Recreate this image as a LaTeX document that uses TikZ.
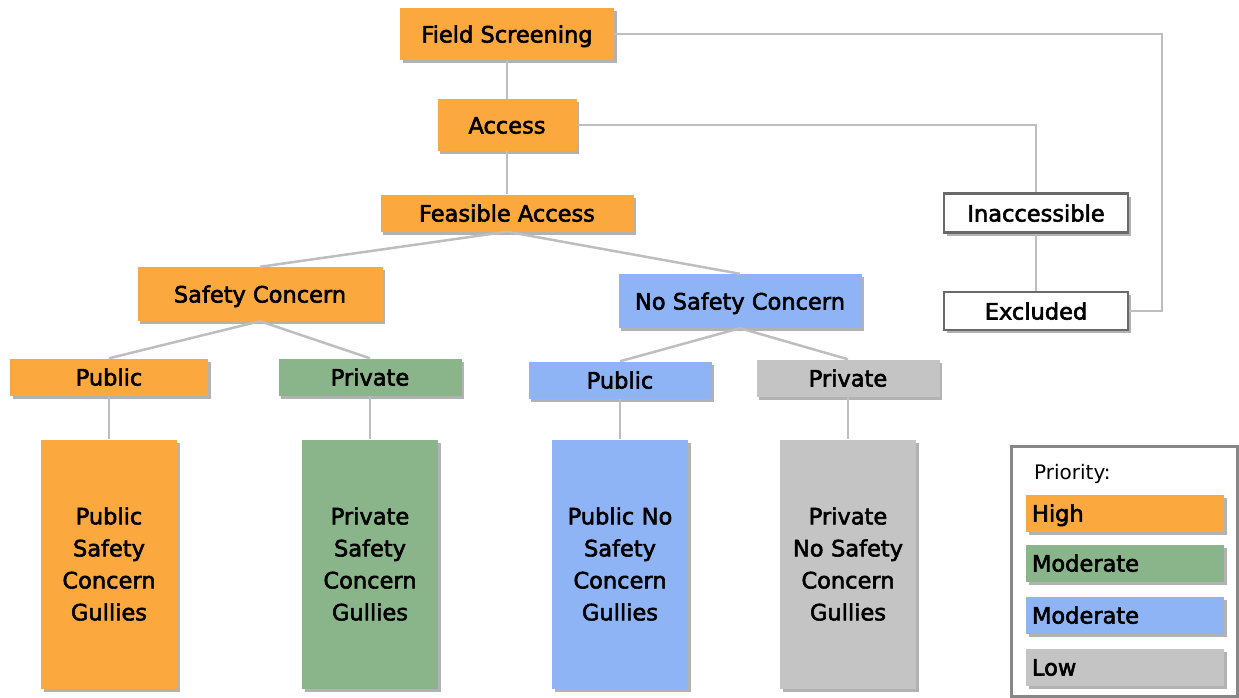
\documentclass[tikz,border=0pt]{standalone}
\usepackage{fontspec}
\setmainfont{DejaVu Sans}
\newfontfamily\boxfont{DejaVu Sans}[FakeBold=2.5]
\usetikzlibrary{shadows}
\definecolor{cor}{RGB}{251,168,62}
\definecolor{cgr}{RGB}{138,180,138}
\definecolor{cbl}{RGB}{142,180,246}
\definecolor{cgy}{RGB}{196,196,196}
\definecolor{cln}{RGB}{190,190,190}
\definecolor{cbd}{RGB}{105,105,105}
\begin{document}
\begin{tikzpicture}[x=1pt,y=-1pt,
  box/.style={draw=none, inner sep=0pt, anchor=center, align=center,
    font=\boxfont\fontsize{22.5}{32}\selectfont,
    drop shadow={shadow xshift=2.5pt,shadow yshift=-3pt,fill=black,opacity=0.3}},
  one/.style={box, text depth=0pt, text height=17pt},
  wbox/.style={one, fill=white, draw=cbd, line width=2.5pt},
  tall/.style={box, text width=136pt, minimum height=249pt},
  leg/.style={one, minimum height=37pt, text width=186pt, inner xsep=6pt, align=left},
  conn/.style={draw=cln, line width=2.5pt}
]
\useasboundingbox (0,0) rectangle (1239,698);

\node[one, fill=cor, minimum width=214pt, minimum height=52pt] (fs) at (507,34) {Field Screening};
\node[one, fill=cor, minimum width=139pt, minimum height=52pt] (ac) at (507,125) {Access};
\node[one, fill=cor, minimum width=253pt, minimum height=37pt] (fa) at (507,213) {Feasible Access};
\node[one, fill=cor, minimum width=245pt, minimum height=54pt] (sc) at (260,294) {Safety Concern};
\node[one, fill=cbl, minimum width=243pt, minimum height=54pt] (nsc) at (740,301) {No Safety Concern};

\node[one, fill=cor, minimum width=198pt, minimum height=37pt] (pu1) at (109,377) {Public};
\node[one, fill=cgr, minimum width=183pt, minimum height=37pt] (pr1) at (370,377) {Private};
\node[one, fill=cbl, minimum width=183pt, minimum height=37pt] (pu2) at (620,380) {Public};
\node[one, fill=cgy, minimum width=183pt, minimum height=37pt] (pr2) at (848,378) {Private};

\node[tall, fill=cor] (g1) at (109,564) {Public\\Safety\\Concern\\Gullies};
\node[tall, fill=cgr] (g2) at (370,564) {Private\\Safety\\Concern\\Gullies};
\node[tall, fill=cbl] (g3) at (620,564) {Public No\\Safety\\Concern\\Gullies};
\node[tall, fill=cgy] (g4) at (848,564) {Private\\No Safety\\Concern\\Gullies};

\node[wbox, minimum width=184pt, minimum height=39pt] (ina) at (1036,213) {Inaccessible};
\node[wbox, minimum width=184pt, minimum height=38pt] (exc) at (1036,311) {Excluded};

% connectors
\draw[conn] (fs.south) -- (ac.north);
\draw[conn] (ac.south) -- (fa.north);
\draw[conn] (fa.south) -- (sc.north);
\draw[conn] (fa.south) -- (nsc.north);
\draw[conn] (sc.south) -- (pu1.north);
\draw[conn] (sc.south) -- (pr1.north);
\draw[conn] (nsc.south) -- (pu2.north);
\draw[conn] (nsc.south) -- (pr2.north);
\draw[conn] (pu1.south) -- (g1.north);
\draw[conn] (pr1.south) -- (g2.north);
\draw[conn] (pu2.south) -- (g3.north);
\draw[conn] (pr2.south) -- (g4.north);
\draw[conn] (fs.east) -- (1162,34) |- (exc.east);
\draw[conn] (ac.east) -| (ina.north);
\draw[conn] (ina.south) -- (exc.north);

% legend
\node[draw=cbd!80, line width=3pt, fill=white, minimum width=226pt, minimum height=250pt, inner sep=0pt] (lg) at (1124,571) {};
\node[anchor=west, inner sep=0pt, font=\fontsize{20}{24}\selectfont] (lt) at (1034,474) {Priority:};
\node[leg, fill=cor] (l1) at (1125,513) {High};
\node[leg, fill=cgr] (l2) at (1125,563) {Moderate};
\node[leg, fill=cbl] (l3) at (1125,615) {Moderate};
\node[leg, fill=cgy] (l4) at (1125,667) {Low};
\end{tikzpicture}
\end{document}
